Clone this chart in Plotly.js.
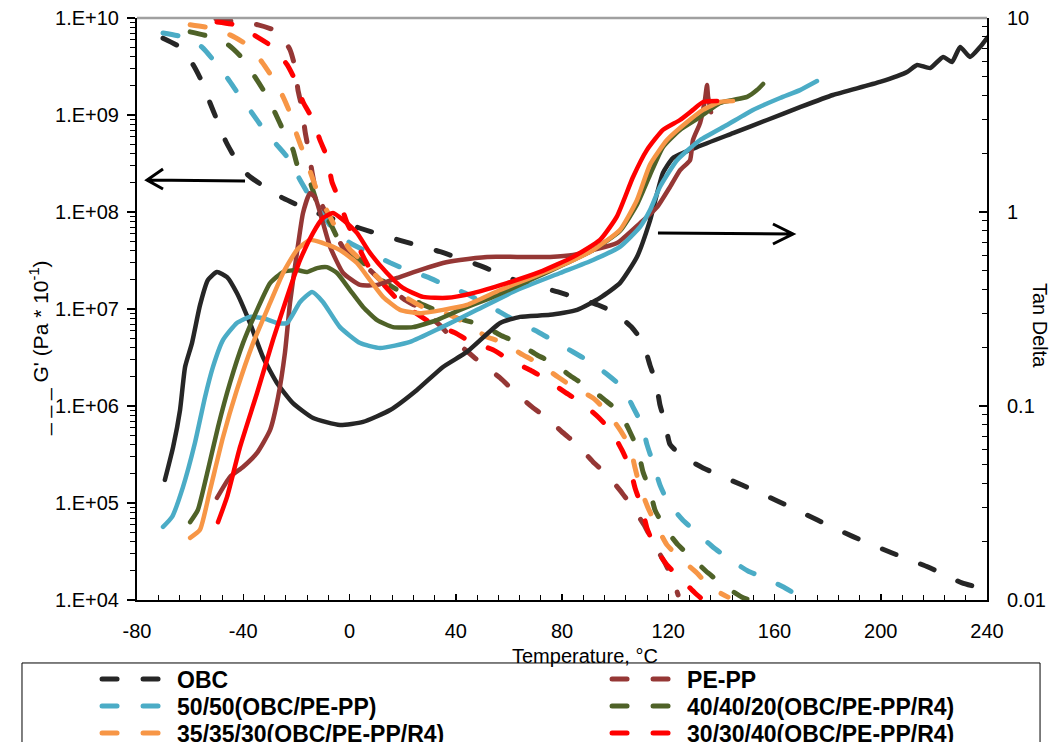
<!DOCTYPE html>
<html><head><meta charset="utf-8">
<script src="https://cdn.plot.ly/plotly-3.0.1.min.js"></script>
<style>
html,body{margin:0;padding:0;background:#fff;}
#chart{width:1051px;height:742px;}
path.js-line{stroke-linecap:round;stroke-linejoin:round;}
</style></head><body><div id="chart"></div>
<script>
// ---- G' (storage modulus, dashed, left axis) ----
const obcT_G = [-70.2,-63.8,-58.9,-55.5,-52.5,-49.9,-46.5,-43.1,-38.2,-31.8,-25.0,-17.9,-7.3,4.0,19.0,34.1,49.1,64.2,78.5,93.6,100.0,106.4,110.5,113.1,115.4,116.9,118.8,120.7,125.6,133.1,147.8,162.1,176.0,189.6,204.3,217.8,224.2,230.6,236.2];
const obcG = [6.2e9,5.0e9,3.3e9,2.19e9,1.33e9,8.9e8,5.3e8,3.6e8,2.4e8,1.81e8,1.39e8,1.13e8,8.7e7,6.8e7,5.1e7,3.9e7,2.8e7,1.9e7,1.5e7,1.1e7,9.1e6,6.4e6,4.5e6,2.65e6,1.73e6,1.02e6,6.7e5,4.0e5,3.0e5,2.3e5,1.53e5,1.02e5,6.7e4,4.5e4,3.05e4,2.19e4,1.81e4,1.5e4,1.36e4];

const pepT_G = [-50.3,-42.4,-34.4,-26.9,-22.4,-20.5,-19.4,-17.9,-16.7,-15.6,-14.1,-13.0,-9.2,-2.4,2.8,11.5,20.9,26.5,34.8,39.0,44.6,50.3,56.7,62.3,68.7,74.4,80.4,85.7,91.7,97.0,102.6,106.7,111.3,114.3,118.8,121.8,123.7];
const pepG = [9.8e9,9.1e9,8.5e9,7.2e9,4.7e9,3.1e9,1.81e9,1.18e9,6.7e8,4.6e8,2.58e8,1.81e8,1.0e8,4.3e7,3.4e7,2.0e7,1.24e7,1.02e7,6.5e6,4.8e6,3.6e6,2.65e6,1.95e6,1.39e6,9.8e5,7.5e5,5.3e5,4.0e5,2.65e5,1.95e5,1.27e5,8.9e4,5.7e4,3.9e4,2.4e4,1.61e4,1.13e4];

const b50T_G = [-70.2,-63.1,-55.5,-50.6,-45.7,-41.6,-36.7,-32.6,-27.3,-23.5,-18.6,-14.9,-7.3,0.2,6.6,15.3,21.7,29.2,36.0,43.5,49.9,56.7,63.4,71.0,77.4,84.2,90.6,97.3,103.0,106.7,110.1,112.0,114.3,116.9,119.9,125.2,130.8,136.9,142.5,150.0,156.4,164.0,170.4];
const b50G = [7.0e9,6.4e9,5.0e9,3.5e9,2.35e9,1.61e9,1.05e9,7.3e8,4.9e8,3.7e8,2.14e8,1.43e8,7.3e7,4.8e7,3.9e7,3.0e7,2.52e7,2.14e7,1.77e7,1.46e7,1.18e7,9.3e6,7.3e6,5.8e6,4.6e6,3.6e6,2.84e6,2.09e6,1.53e6,9.8e5,6.4e5,4.0e5,2.58e5,1.53e5,1.02e5,6.8e4,4.9e4,3.5e4,2.7e4,1.99e4,1.69e4,1.33e4,1.05e4];

const g40T_G = [-60.0,-53.3,-45.7,-40.5,-35.6,-31.8,-28.0,-25.0,-21.3,-19.4,-14.9,-12.2,-7.3,-3.6,5.1,10.4,26.5,39.0,49.9,56.7,63.1,70.6,76.6,83.8,89.8,96.2,101.8,105.6,108.6,110.5,113.1,115.0,118.8,123.7,129.0,135.0,140.6,147.8,150.8];
const g40G = [7.2e9,6.5e9,5.3e9,3.9e9,2.47e9,1.69e9,1.05e9,7.0e8,4.4e8,2.9e8,2.04e8,1.24e8,7.7e7,4.9e7,3.0e7,2.14e7,1.15e7,8.3e6,6.8e6,5.4e6,4.5e6,3.36e6,2.77e6,1.99e6,1.57e6,1.15e6,8.5e5,5.4e5,3.5e5,2.09e5,1.36e5,8.5e4,5.5e4,3.7e4,2.7e4,1.9e4,1.43e4,1.07e4,1.0e4];

const o35T_G = [-60.0,-52.5,-45.0,-38.6,-32.9,-29.2,-25.0,-22.4,-19.8,-17.5,-14.1,-11.9,-7.3,-4.7,0.2,5.1,10.4,14.5,22.8,28.4,37.8,43.5,52.1,57.8,65.3,71.0,78.5,84.2,91.7,97.0,101.8,105.6,107.5,109.4,112.4,115.8,119.5,124.4,130.8,135.7,142.5];
const o35G = [8.5e9,7.9e9,6.7e9,5.3e9,3.5e9,2.47e9,1.54e9,1.05e9,6.2e8,4.2e8,2.3e8,1.57e8,8.9e7,6.5e7,4.1e7,3.05e7,2.14e7,1.69e7,1.24e7,1.02e7,8.7e6,7.2e6,5.1e6,4.5e6,3.36e6,2.77e6,1.99e6,1.57e6,1.21e6,8.7e5,5.7e5,3.78e5,2.3e5,1.46e5,8.9e4,5.7e4,3.7e4,2.7e4,1.9e4,1.36e4,1.07e4];

const r30T_G = [-49.9,-43.1,-34.8,-28.8,-23.5,-20.5,-17.5,-14.1,-11.1,-8.5,-6.6,-4.3,-0.9,1.3,5.8,8.5,14.1,19.0,27.7,31.4,39.7,45.4,54.0,60.4,68.0,74.4,81.1,87.5,93.6,98.8,102.6,105.6,107.5,110.1,112.0,115.0,119.5,124.4,130.1,133.1];
const r30G = [9.1e9,8.5e9,6.4e9,5.0e9,3.3e9,2.3e9,1.36e9,9.3e8,5.5e8,3.7e8,2.04e8,1.43e8,7.7e7,5.8e7,3.2e7,2.4e7,1.64e7,1.18e7,8.1e6,7.0e6,5.7e6,4.6e6,3.8e6,2.98e6,2.35e6,1.85e6,1.39e6,1.07e6,7.7e5,5.4e5,3.5e5,2.3e5,1.43e5,8.9e4,5.5e4,3.5e4,2.3e4,1.69e4,1.18e4,1.0e4];

// ---- Tan Delta (solid, right axis) ----
const obcT_D = [-69.5,-66.4,-63.8,-61.9,-59.3,-56.3,-53.3,-49.9,-46.1,-42.4,-37.5,-32.6,-27.3,-21.3,-13.7,-3.6,5.1,15.3,25.4,35.2,44.2,56.7,64.2,75.5,85.7,94.3,101.8,108.2,113.1,118.0,121.8,130.8,144.4,157.2,169.6,182.0,199.7,209.9,213.7,218.6,223.5,226.8,229.9,233.6,237.4,240.0];
const obcD = [0.0416,0.0615,0.0953,0.159,0.211,0.33,0.446,0.491,0.462,0.382,0.268,0.179,0.1315,0.1035,0.0867,0.0798,0.0828,0.0953,0.121,0.159,0.190,0.268,0.288,0.295,0.313,0.361,0.430,0.586,0.9,1.59,1.90,2.16,2.55,2.98,3.47,4.01,4.68,5.27,5.73,5.52,6.30,5.93,7.09,6.30,7.09,7.89];

const pepT_D = [-49.9,-45.0,-40.1,-34.8,-29.9,-26.9,-24.3,-22.4,-19.8,-17.5,-14.9,-13.0,-10.3,-7.3,-2.4,4.0,10.4,17.9,26.5,35.2,41.6,51.8,63.1,75.5,84.2,91.7,100.7,109.4,115.8,120.7,124.4,128.2,129.3,132.0,133.8,134.6,135.0,136.1];
const pepD = [0.0336,0.0431,0.0485,0.0573,0.0752,0.111,0.188,0.340,0.615,0.989,1.25,1.19,0.910,0.661,0.485,0.421,0.421,0.457,0.502,0.546,0.566,0.587,0.587,0.587,0.600,0.637,0.692,0.877,1.06,1.35,1.64,1.85,2.35,2.88,3.78,4.52,3.92,3.27];

const b50T_D = [-70.2,-66.8,-62.7,-58.2,-54.4,-51.4,-47.6,-42.4,-37.5,-32.6,-27.3,-23.5,-18.6,-14.1,-10.0,-3.6,4.0,11.5,22.8,34.1,48.0,63.1,79.3,91.7,101.8,109.4,113.1,116.9,123.3,132.0,142.1,151.9,162.1,169.6,176.0];
const b50D = [0.0238,0.0268,0.0382,0.0644,0.111,0.159,0.219,0.268,0.288,0.284,0.268,0.268,0.344,0.387,0.344,0.255,0.211,0.199,0.214,0.252,0.313,0.396,0.485,0.566,0.661,0.838,1.02,1.35,1.85,2.35,2.81,3.36,3.87,4.25,4.73];

const g40T_D = [-60.0,-57.1,-53.3,-49.5,-45.0,-40.1,-34.8,-29.9,-25.0,-19.8,-16.0,-12.2,-8.5,-4.7,0.2,5.1,10.4,16.4,23.9,32.9,41.6,54.0,68.0,81.9,91.7,101.8,108.2,113.1,118.0,124.4,132.0,139.5,144.4,149.7,153.4,155.7];
const g40D = [0.0252,0.0291,0.0468,0.078,0.1315,0.211,0.313,0.430,0.491,0.502,0.491,0.514,0.52,0.485,0.396,0.324,0.277,0.255,0.255,0.277,0.313,0.365,0.446,0.546,0.637,0.798,1.09,1.55,2.16,2.65,3.09,3.65,3.78,3.92,4.25,4.57];

const o35T_D = [-60.0,-56.3,-52.5,-47.6,-42.4,-36.3,-29.9,-25.0,-19.8,-14.9,-10.0,-3.6,2.8,7.7,12.6,19.0,26.5,35.2,44.2,56.7,69.1,81.9,91.7,101.8,108.2,113.1,119.5,127.1,133.1,139.5,144.4];
const o35D = [0.0209,0.0230,0.0369,0.0692,0.121,0.211,0.340,0.485,0.637,0.718,0.692,0.637,0.546,0.446,0.365,0.313,0.301,0.313,0.332,0.396,0.463,0.546,0.637,0.808,1.15,1.75,2.35,2.91,3.36,3.69,3.73];

const r30T_D = [-49.5,-46.1,-41.2,-34.8,-28.8,-23.5,-18.6,-13.7,-10.0,-6.2,-2.4,2.8,7.7,14.1,20.1,27.7,36.7,46.5,59.3,71.7,84.2,94.3,100.7,106.7,112.0,118.0,124.4,129.3,133.1,138.4];
const r30D = [0.0252,0.0340,0.0615,0.1167,0.219,0.365,0.566,0.780,0.931,0.989,0.910,0.780,0.615,0.485,0.406,0.365,0.361,0.382,0.430,0.491,0.587,0.718,0.95,1.51,2.09,2.65,2.98,3.36,3.69,3.73];

// ---- labels ----
const seriesNames = ["OBC","PE-PP","50/50(OBC/PE-PP)","40/40/20(OBC/PE-PP/R4)","35/35/30(OBC/PE-PP/R4)","30/30/40(OBC/PE-PP/R4)"];
const seriesColors = ["#262626","#953735","#4BACC6","#4F6228","#F79646","#FF0000"];
const xTickVals = [-80,-40,0,40,80,120,160,200,240];
const xTickText = ["-80","-40","0","40","80","120","160","200","240"];
const leftTickVals = [1e4,1e5,1e6,1e7,1e8,1e9,1e10];
const leftTickText = ["1.E+04","1.E+05","1.E+06","1.E+07","1.E+08","1.E+09","1.E+10"];
const rightTickVals = [0.01,0.1,1,10];
const rightTickText = ["0.01","0.1","1","10"];

const gT = [obcT_G,pepT_G,b50T_G,g40T_G,o35T_G,r30T_G];
const gV = [obcG,pepG,b50G,g40G,o35G,r30G];
const dT = [obcT_D,pepT_D,b50T_D,g40T_D,o35T_D,r30T_D];
const dV = [obcD,pepD,b50D,g40D,o35D,r30D];

const FONT = "Liberation Sans, Arial, sans-serif";
const legendIds = ["legend","legend2","legend3","legend4","legend5","legend6"];
const traces = [];
for (let i=0;i<6;i++){
  traces.push({x:gT[i], y:gV[i], type:'scatter', mode:'lines', name:seriesNames[i],
    legend:legendIds[i], yaxis:'y',
    line:{color:seriesColors[i], width:5, dash:'15px,26px', shape:'spline', smoothing:0.5}});
}
for (let i=0;i<6;i++){
  traces.push({x:dT[i], y:dV[i], type:'scatter', mode:'lines', name:seriesNames[i]+' tan',
    showlegend:false, yaxis:'y2',
    line:{color:seriesColors[i], width:4.5, shape:'spline', smoothing:0.5}});
}

function minorLog(a,b){const v=[];for(let k=a;k<b;k++){for(let d=2;d<=9;d++){v.push(d*Math.pow(10,k));}}return v;}

function mkLegend(x,y){
  return {orientation:'v', xanchor:'left', yanchor:'middle', x:x, y:y,
    itemwidth:70, bgcolor:'rgba(0,0,0,0)', borderwidth:0,
    font:{family:FONT, size:23, color:'#000', weight:'bold'}};
}
const colX = [-0.047, 0.553];
const rowY = [-0.1357, -0.1821, -0.2285];

const layout = {
  width:1051, height:742,
  margin:{l:137, r:64, t:18, b:142, autoexpand:false},
  paper_bgcolor:'#fff', plot_bgcolor:'#fff',
  font:{family:FONT, size:19, color:'#000'},
  xaxis:{range:[-80,240], tickmode:'array', tickvals:xTickVals, ticktext:xTickText, ticks:'inside', ticklen:6, tickwidth:1.5, tickcolor:'#000',
    showline:true, linecolor:'#000', linewidth:2, showgrid:false, zeroline:false,
    ticklabelstandoff:12, tickfont:{family:FONT,size:20,color:'#000'},
    minor:{tick0:-80, dtick:8, ticks:'inside', ticklen:5, tickwidth:1, tickcolor:'#000', showgrid:false}},
  yaxis:{type:'log', range:[4,10], tickmode:'array', tickvals:leftTickVals, ticktext:leftTickText,
    ticks:'outside', ticklen:8, tickwidth:1.5, tickcolor:'#000', showline:true, linecolor:'#000', linewidth:2,
    showgrid:false, zeroline:false, ticklabelstandoff:4, tickfont:{family:FONT,size:20,color:'#000'},
    minor:{tickmode:'array', tickvals:minorLog(4,10), ticks:'outside', ticklen:5, tickwidth:1, tickcolor:'#000', showgrid:false}},
  yaxis2:{type:'log', range:[-2,1], overlaying:'y', side:'right', tickmode:'array', tickvals:rightTickVals, ticktext:rightTickText,
    ticks:'inside', ticklen:8, tickwidth:1.5, tickcolor:'#000', showline:true, linecolor:'#000', linewidth:2,
    showgrid:false, zeroline:false, ticklabelstandoff:14, tickfont:{family:FONT,size:20,color:'#000'},
    minor:{tickmode:'array', tickvals:minorLog(-2,1), ticks:'inside', ticklen:5, tickwidth:1, tickcolor:'#000', showgrid:false}},
  legend: mkLegend(colX[0], rowY[0]),
  legend2: mkLegend(colX[1], rowY[0]),
  legend3: mkLegend(colX[0], rowY[1]),
  legend4: mkLegend(colX[1], rowY[1]),
  legend5: mkLegend(colX[0], rowY[2]),
  legend6: mkLegend(colX[1], rowY[2]),
  shapes:[
    {type:'line', xref:'paper', yref:'paper', x0:0, x1:1, y0:1, y1:1, line:{color:'#a0a0a0', width:2.5}},
    {type:'rect', xref:'paper', yref:'paper', x0:-0.1353, x1:1.0624, y0:-0.1082, y1:-0.27, line:{color:'#000', width:1}},
    {type:'path', xref:'paper', yref:'paper', path:'M0.1271,0.7199 L0.0118,0.7216 M0.0306,0.7405 L0.0118,0.7216 L0.0306,0.7062', line:{color:'#000', width:3}},
    {type:'path', xref:'paper', yref:'paper', path:'M0.6129,0.6306 L0.7718,0.6289 M0.7482,0.6460 L0.7718,0.6289 L0.7482,0.6117', line:{color:'#000', width:3}}
  ],
  annotations:[
    {xref:'paper', yref:'paper', x:-0.114, y:0.433, xanchor:'center', yanchor:'middle', textangle:-90, showarrow:false,
     text:"_ _ _ G' (Pa * 10<sup>-1</sup>)", font:{family:FONT, size:21, color:'#000'}},
    {xref:'paper', yref:'paper', x:1.0624, y:0.4725, xanchor:'center', yanchor:'middle', textangle:90, showarrow:false,
     text:"Tan Delta", font:{family:FONT, size:20, color:'#000'}},
    {xref:'paper', yref:'paper', x:0.527, y:-0.0962, xanchor:'center', yanchor:'middle', showarrow:false,
     text:"Temperature, °C", font:{family:FONT, size:20, color:'#000'}}
  ]
};

Plotly.newPlot('chart', traces, layout, {displayModeBar:false, staticPlot:true});
</script></body></html>
